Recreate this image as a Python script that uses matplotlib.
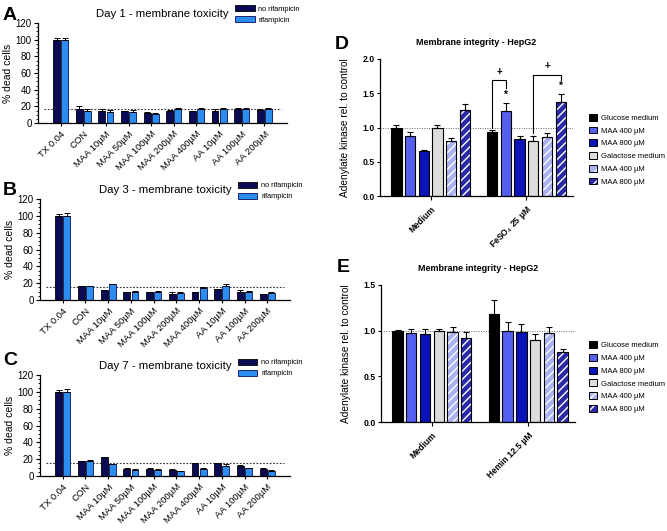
import numpy as np
import matplotlib
matplotlib.use('Agg')
import matplotlib.pyplot as plt
from matplotlib.patches import Patch
from matplotlib.ticker import MultipleLocator

plt.rcParams['font.family'] = ['Liberation Sans', 'DejaVu Sans']
plt.rcParams['hatch.linewidth'] = 1.0

# ---- data: panels A-C (% dead cells) ----
conditions = ['TX 0.04', 'CON', 'MAA 10µM', 'MAA 50µM', 'MAA 100µM', 'MAA 200µM',
              'MAA 400µM', 'AA 10µM', 'AA 100µM', 'AA 200µM']
series_ac = ['no rifampicin', 'rifampicin']

day1_no = [100, 17, 15, 14, 12.5, 14, 14, 15, 17, 16]
day1_rif = [100, 15, 13.5, 13, 11, 17, 16.5, 16.5, 17, 17]
day1_no_err = [2, 3, 1.5, 1, 1, 1.5, 1, 1.5, 1.5, 1]
day1_rif_err = [2, 1.5, 2, 3, 1, 1.5, 1, 1, 1, 1.5]

day3_no = [100, 16.5, 11.5, 9, 9, 7, 9, 12.5, 9, 7]
day3_rif = [100, 16.5, 19, 10, 10, 8.5, 14, 16.5, 10, 8.5]
day3_no_err = [2, 0.5, 0.5, 0.5, 0.5, 2, 0.5, 1, 2.5, 0.5]
day3_rif_err = [3, 0.5, 0.5, 0.5, 0.5, 1, 1, 2, 0.5, 0.5]

day7_no = [100, 17.5, 22, 8.5, 8.5, 7.5, 15.5, 15, 12, 8.5]
day7_rif = [100, 17.5, 14, 7.5, 7.5, 6, 8.5, 12, 9, 6.5]
day7_no_err = [2, 0.8, 0.8, 0.5, 0.5, 0.5, 0.5, 0.5, 0.5, 0.5]
day7_rif_err = [3, 2, 0.8, 0.5, 0.5, 0.5, 0.5, 2, 0.5, 0.5]

baseline_ac = [16.5, 16, 16]

# ---- data: panels D-E (adenylate kinase rel. to control) ----
media_series = ['Glucose medium', 'MAA 400 µM', 'MAA 800 µM', 'Galactose medium',
                'MAA 400 µM', 'MAA 800 µM']
d_groups = ['Medium', 'FeSO$_4$ 25 µM']
d_medium = [1.0, 0.88, 0.655, 1.0, 0.80, 1.25]
d_medium_err = [0.03, 0.06, 0.01, 0.03, 0.05, 0.10]
d_feso = [0.935, 1.24, 0.83, 0.80, 0.865, 1.365]
d_feso_err = [0.025, 0.12, 0.04, 0.07, 0.06, 0.13]

e_groups = ['Medium', 'Hemin 12.5 µM']
e_medium = [1.0, 0.97, 0.965, 1.0, 0.99, 0.92]
e_medium_err = [0.01, 0.05, 0.05, 0.02, 0.05, 0.06]
e_hemin = [1.185, 1.0, 0.99, 0.90, 0.975, 0.765]
e_hemin_err = [0.15, 0.10, 0.08, 0.065, 0.065, 0.03]

col_no = '#0b0b55'
col_rif = '#2b8def'
media_colors = ['#000000', '#5560f0', '#0a14b8', '#dcdcdc', '#aab2f2', '#2a2aa8']
media_hatch = [None, None, None, None, '////', '////']

W, H = 667, 531
fig = plt.figure(figsize=(W / 100, H / 100), dpi=100)


def px_axes(left, top, right, bottom):
    return fig.add_axes([left / W, 1 - bottom / H, (right - left) / W, (bottom - top) / H])


def panel_ac(ax, title, no, rif, no_err, rif_err, base, leg_y):
    x = np.arange(len(conditions))
    w = 0.3
    ax.bar(x - 0.18, no, w, color=col_no, edgecolor='black', linewidth=0.6, label=series_ac[0], zorder=2)
    ax.bar(x + 0.18, rif, w, color=col_rif, edgecolor='#0b0b55', linewidth=0.6, label=series_ac[1], zorder=2)
    ax.errorbar(x - 0.18, no, yerr=[np.zeros(len(no)), no_err], fmt='none', ecolor='black',
                capsize=2, elinewidth=0.7, capthick=0.7, zorder=3)
    ax.errorbar(x + 0.18, rif, yerr=[np.zeros(len(rif)), rif_err], fmt='none', ecolor='black',
                capsize=2, elinewidth=0.7, capthick=0.7, zorder=3)
    ax.plot([-0.75, 9.75], [base, base], ls=(0, (1.5, 1.5)), color='#333333', lw=0.8, zorder=1)
    ax.set_xlim(-1, 10)
    ax.set_ylim(0, 120)
    ax.set_yticks(np.arange(0, 121, 20))
    ax.yaxis.set_minor_locator(MultipleLocator(5))
    ax.set_xticks(x)
    ax.set_xticklabels(conditions, rotation=45, ha='right', rotation_mode='anchor', fontsize=6.8)
    ax.tick_params(axis='y', labelsize=7, length=3, width=0.8, pad=1.5)
    ax.tick_params(axis='y', which='minor', length=1.5, width=0.6)
    ax.tick_params(axis='x', length=2.5, width=0.8, pad=2)
    for s in ['top', 'right']:
        ax.spines[s].set_visible(False)
    for s in ['left', 'bottom']:
        ax.spines[s].set_linewidth(0.9)
    ax.set_ylabel('% dead cells', fontsize=7.5, labelpad=2)
    ax.set_title(title, fontsize=8.2, pad=4)
    ax.legend(loc='upper left', bbox_to_anchor=(0.79, leg_y), frameon=False, fontsize=5.3,
              handlelength=2.7, handleheight=0.9, labelspacing=0.45, handletextpad=0.5,
              borderpad=0, borderaxespad=0)


axA = px_axes(38, 23, 287, 123)
panel_ac(axA, 'Day 1 - membrane toxicity', day1_no, day1_rif, day1_no_err, day1_rif_err,
         baseline_ac[0], 1.18)
axB = px_axes(40, 199, 290, 300)
panel_ac(axB, 'Day 3 - membrane toxicity', day3_no, day3_rif, day3_no_err, day3_rif_err,
         baseline_ac[1], 1.17)
axC = px_axes(40, 375, 290, 476)
panel_ac(axC, 'Day 7 - membrane toxicity', day7_no, day7_rif, day7_no_err, day7_rif_err,
         baseline_ac[2], 1.16)


def panel_de(ax, groups, first, first_err, second, second_err, ymax, leg_x, leg_y):
    x1 = np.arange(6)
    x2 = np.arange(6) + 7
    w = 0.75
    for xs, vals, errs in [(x1, first, first_err), (x2, second, second_err)]:
        for i in range(6):
            if media_hatch[i]:
                ax.bar(xs[i], vals[i], w, color=media_colors[i], edgecolor='white',
                       hatch=media_hatch[i], linewidth=0, zorder=2)
                ax.bar(xs[i], vals[i], w, fill=False, edgecolor='black', linewidth=0.8, zorder=2)
            else:
                ax.bar(xs[i], vals[i], w, color=media_colors[i], edgecolor='black',
                       linewidth=0.8, zorder=2)
        ax.errorbar(xs, vals, yerr=[np.zeros(6), errs], fmt='none', ecolor='black',
                    capsize=2.5, elinewidth=0.8, capthick=0.8, zorder=3)
    ax.axhline(1.0, ls=(0, (1, 1.5)), color='#666666', lw=0.7, zorder=1)
    ax.set_xlim(-1.2, 12.9)
    ax.set_ylim(0, ymax)
    ax.set_yticks(np.arange(0, ymax + 0.01, 0.5))
    ax.set_yticklabels([f'{v:.1f}' for v in np.arange(0, ymax + 0.01, 0.5)], fontweight='bold')
    ax.set_xticks([2.5, 9.5])
    ax.set_xticklabels(groups, rotation=45, ha='right', rotation_mode='anchor',
                       fontsize=6.2, fontweight='bold')
    ax.tick_params(axis='y', labelsize=6.2, length=2.5, width=0.8, pad=1.5)
    ax.tick_params(axis='x', length=3, width=0.8, pad=3)
    for s in ['top', 'right']:
        ax.spines[s].set_visible(False)
    for s in ['left', 'bottom']:
        ax.spines[s].set_linewidth(0.9)
    ax.set_ylabel('Adenylate kinase rel. to control', fontsize=7.3, labelpad=9)
    ax.set_title('Membrane integrity - HepG2', fontsize=6.5, fontweight='bold', pad=10)
    handles = []
    for i in range(6):
        if media_hatch[i]:
            handles.append((Patch(facecolor=media_colors[i], edgecolor='white', hatch='///', linewidth=0),
                            Patch(fill=False, edgecolor='black', linewidth=0.7)))
        else:
            handles.append(Patch(facecolor=media_colors[i], edgecolor='black', linewidth=0.7))
    ax.legend(handles, media_series, loc='upper left', bbox_to_anchor=(leg_x, leg_y), frameon=False,
              fontsize=5.5, handlelength=1.0, handleheight=1.0, labelspacing=0.62, handletextpad=0.55,
              borderpad=0, borderaxespad=0)


axD = px_axes(380, 59, 573, 196)
panel_de(axD, d_groups, d_medium, d_medium_err, d_feso, d_feso_err, 2.0, 1.085, 0.60)
# significance marks in D
axD.plot([7, 7, 8, 8], [1.0, 1.70, 1.70, 1.57], color='black', lw=0.8)
axD.text(7.5, 1.74, '+', ha='center', va='bottom', fontsize=7, fontweight='bold')
axD.text(8, 1.40, '*', ha='center', va='bottom', fontsize=7, fontweight='bold')
axD.plot([10, 10, 12, 12], [0.92, 1.77, 1.77, 1.70], color='black', lw=0.8)
axD.text(11, 1.82, '+', ha='center', va='bottom', fontsize=7, fontweight='bold')
axD.text(12, 1.53, '*', ha='center', va='bottom', fontsize=7, fontweight='bold')

axE = px_axes(381, 285, 575, 422)
panel_de(axE, e_groups, e_medium, e_medium_err, e_hemin, e_hemin_err, 1.5, 1.072, 0.59)

for lab, xp, yp in [('A', 3, 7), ('B', 3, 182), ('C', 3, 352), ('D', 335, 36), ('E', 337, 259)]:
    fig.text(xp / W, 1 - yp / H, lab, fontsize=14, fontweight='bold', ha='left', va='top')

fig.savefig('out.png', dpi=100)
